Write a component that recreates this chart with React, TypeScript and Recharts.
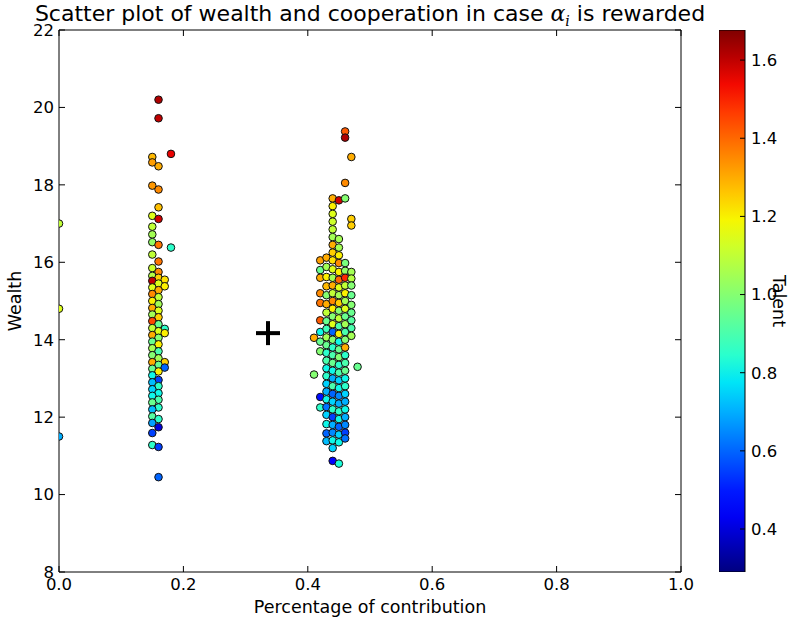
import { ScatterChart, Scatter, XAxis, YAxis, BarChart, Bar } from "recharts";

const FONT = "DejaVu Sans";

const xTicks = [0, 0.2, 0.4, 0.6, 0.8, 1.0];
const yTicks = [8, 10, 12, 14, 16, 18, 20, 22];
const talentTicks = [0.4, 0.6, 0.8, 1.0, 1.2, 1.4, 1.6];
const talentMin = 0.29;
const talentMax = 1.677;

// [contribution, wealth, talent]
type Agent = [number, number, number];

const edgeAgents: Agent[] = [
  [0, 17.0, 1.1],
  [0, 14.8, 1.15],
  [0, 11.5, 0.7],
];

const lowContributors: Agent[] = [
  [0.16, 20.2, 1.62], [0.16, 19.72, 1.6], [0.18, 18.8, 1.55], [0.15, 18.72, 1.28],
  [0.15, 18.58, 1.32], [0.16, 18.48, 1.3], [0.15, 17.98, 1.33], [0.16, 17.88, 1.35],
  [0.16, 17.42, 1.27], [0.15, 17.2, 1.15], [0.16, 17.12, 1.58], [0.15, 16.92, 1.1],
  [0.15, 16.72, 1.05], [0.15, 16.52, 1.02], [0.16, 16.45, 1.38], [0.18, 16.38, 0.85],
  [0.15, 16.2, 1.1], [0.16, 16.02, 1.38], [0.15, 15.85, 1.12], [0.16, 15.75, 1.35],
  [0.15, 15.65, 1.08], [0.16, 15.6, 1.25], [0.15, 15.52, 1.6], [0.17, 15.55, 1.22],
  [0.16, 15.45, 1.15], [0.17, 15.38, 1.2], [0.15, 15.35, 1.15], [0.16, 15.28, 1.3],
  [0.15, 15.18, 1.35], [0.16, 15.1, 1.1], [0.15, 15.0, 1.2], [0.16, 14.92, 1.05],
  [0.15, 14.82, 1.3], [0.16, 14.75, 1.15], [0.15, 14.65, 1.05], [0.16, 14.58, 1.25],
  [0.15, 14.48, 1.45], [0.16, 14.4, 0.95], [0.15, 14.3, 1.1], [0.17, 14.28, 0.85],
  [0.16, 14.22, 1.15], [0.17, 14.17, 1.2], [0.15, 14.12, 1.3], [0.16, 14.05, 1.0],
  [0.15, 13.95, 0.95], [0.16, 13.88, 1.2], [0.15, 13.78, 1.05], [0.16, 13.7, 0.9],
  [0.15, 13.6, 1.0], [0.16, 13.52, 1.05], [0.15, 13.42, 1.3], [0.17, 13.42, 1.25],
  [0.16, 13.35, 0.95], [0.17, 13.28, 0.6], [0.15, 13.25, 0.95], [0.16, 13.18, 1.2],
  [0.15, 13.08, 0.8], [0.16, 12.96, 0.55], [0.15, 12.9, 0.72], [0.16, 12.8, 0.85],
  [0.15, 12.72, 0.75], [0.16, 12.62, 0.8], [0.15, 12.55, 0.8], [0.16, 12.45, 0.9],
  [0.15, 12.38, 0.95], [0.16, 12.25, 0.85], [0.15, 12.2, 0.72], [0.15, 12.02, 0.92],
  [0.16, 11.95, 0.85], [0.15, 11.85, 0.68], [0.16, 11.74, 0.4], [0.15, 11.59, 0.55],
  [0.15, 11.28, 0.85], [0.16, 11.23, 0.55], [0.16, 10.45, 0.6],
];

const highContributors: Agent[] = [
  [0.41, 14.05, 1.3], [0.41, 13.1, 1.0],
  [0.42, 16.05, 1.32], [0.42, 15.8, 0.95], [0.42, 15.6, 1.3], [0.42, 15.2, 1.35],
  [0.42, 14.95, 1.38], [0.42, 14.5, 1.42], [0.42, 14.2, 0.8], [0.42, 13.95, 0.95],
  [0.42, 13.7, 1.0], [0.42, 12.52, 0.48], [0.42, 12.25, 0.85],
  [0.43, 16.12, 1.3], [0.43, 15.88, 1.05], [0.43, 15.62, 1.2], [0.43, 15.38, 1.28],
  [0.43, 15.15, 1.0], [0.43, 14.92, 1.3], [0.43, 14.7, 1.1], [0.43, 14.48, 0.95],
  [0.43, 14.28, 0.88], [0.43, 14.06, 1.05], [0.43, 13.86, 0.95], [0.43, 13.66, 0.85],
  [0.43, 13.46, 0.9], [0.43, 13.26, 0.8], [0.43, 13.06, 0.85], [0.43, 12.86, 0.75],
  [0.43, 12.66, 0.7], [0.43, 12.46, 0.8], [0.43, 12.26, 0.62], [0.43, 12.06, 0.75],
  [0.43, 11.82, 0.8], [0.43, 11.58, 0.6], [0.43, 11.38, 0.72],
  [0.44, 17.65, 1.3], [0.44, 17.45, 1.2], [0.44, 17.25, 1.15], [0.44, 17.05, 1.12],
  [0.44, 16.85, 1.1], [0.44, 16.65, 1.05], [0.44, 16.45, 1.3], [0.44, 16.25, 1.25],
  [0.44, 16.05, 1.22], [0.44, 15.82, 1.15], [0.44, 15.6, 1.05], [0.44, 15.4, 1.3],
  [0.44, 15.2, 1.1], [0.44, 15.0, 1.35], [0.44, 14.8, 1.2], [0.44, 14.6, 1.0],
  [0.44, 14.4, 1.15], [0.44, 14.2, 0.6], [0.44, 14.0, 1.0], [0.44, 13.8, 0.85],
  [0.44, 13.6, 0.9], [0.44, 13.4, 0.95], [0.44, 13.2, 0.8], [0.44, 13.0, 0.7],
  [0.44, 12.8, 0.9], [0.44, 12.6, 0.6], [0.44, 12.4, 0.75], [0.44, 12.2, 0.85],
  [0.44, 12.0, 0.55], [0.44, 11.8, 0.7], [0.44, 11.6, 0.65], [0.44, 11.4, 0.8],
  [0.44, 11.2, 0.75], [0.44, 10.87, 0.45],
  [0.45, 17.6, 1.58], [0.45, 16.6, 1.05], [0.45, 16.38, 1.05], [0.45, 16.18, 1.2],
  [0.45, 15.98, 1.35], [0.45, 15.75, 1.2], [0.45, 15.55, 1.4], [0.45, 15.35, 1.15],
  [0.45, 15.15, 1.05], [0.45, 14.95, 1.25], [0.45, 14.75, 1.0], [0.45, 14.55, 1.1],
  [0.45, 14.35, 0.9], [0.45, 14.15, 1.2], [0.45, 13.95, 0.8], [0.45, 13.75, 0.95],
  [0.45, 13.55, 1.0], [0.45, 13.35, 0.85], [0.45, 13.15, 0.9], [0.45, 12.95, 0.75],
  [0.45, 12.75, 0.8], [0.45, 12.55, 0.65], [0.45, 12.35, 0.7], [0.45, 12.15, 0.85],
  [0.45, 11.95, 0.8], [0.45, 11.75, 0.6], [0.45, 11.55, 0.75], [0.45, 11.35, 0.8],
  [0.45, 10.8, 0.82],
  [0.46, 19.38, 1.42], [0.46, 19.22, 1.62], [0.46, 18.05, 1.35], [0.46, 17.65, 1.0],
  [0.46, 15.98, 0.98], [0.46, 15.78, 1.02], [0.46, 15.6, 1.5], [0.46, 15.4, 1.1],
  [0.46, 15.2, 1.2], [0.46, 15.0, 1.05], [0.46, 14.8, 1.15], [0.46, 14.6, 0.95],
  [0.46, 14.4, 1.05], [0.46, 14.2, 0.9], [0.46, 14.0, 1.0], [0.46, 13.8, 1.3],
  [0.46, 13.6, 0.85], [0.46, 13.4, 0.9], [0.46, 13.2, 0.95], [0.46, 13.0, 0.8],
  [0.46, 12.8, 0.85], [0.46, 12.6, 0.75], [0.46, 12.4, 0.7], [0.46, 12.2, 0.8],
  [0.46, 12.0, 0.7], [0.46, 11.8, 0.65], [0.46, 11.6, 0.55], [0.46, 11.45, 0.62],
  [0.47, 18.72, 1.3], [0.47, 17.12, 1.25], [0.47, 16.95, 1.25], [0.47, 15.75, 1.05],
  [0.47, 15.58, 1.08], [0.47, 15.4, 1.0], [0.47, 15.15, 0.95], [0.47, 14.9, 1.0],
  [0.47, 14.7, 0.95], [0.47, 14.5, 0.92], [0.47, 14.3, 0.9], [0.47, 14.1, 1.05],
  [0.48, 13.3, 0.95],
];

const centroidX = [0.336];
const centroidY = [14.17];

// matplotlib "jet" colormap segments
const jetR = [[0, 0], [0.35, 0], [0.66, 1], [0.89, 1], [1, 0.5]];
const jetG = [[0, 0], [0.125, 0], [0.375, 1], [0.64, 1], [0.91, 0], [1, 0]];
const jetB = [[0, 0.5], [0.11, 1], [0.34, 1], [0.65, 0], [1, 0]];

const channel = (pts: number[][], t: number) => {
  for (let i = 1; i < pts.length; i++) {
    if (t <= pts[i][0]) {
      const [x0, y0] = pts[i - 1];
      const [x1, y1] = pts[i];
      return y0 + ((y1 - y0) * (t - x0)) / (x1 - x0);
    }
  }
  return pts[pts.length - 1][1];
};

const jet = (t: number) => {
  const c = Math.max(0, Math.min(1, t));
  const r = Math.round(channel(jetR, c) * 255);
  const g = Math.round(channel(jetG, c) * 255);
  const b = Math.round(channel(jetB, c) * 255);
  return `rgb(${r},${g},${b})`;
};

const talentColor = (v: number) => jet((v - talentMin) / (talentMax - talentMin));

const toRows = (list: Agent[]) => list.map(([x, y, talent]) => ({ x, y, talent }));
const centroid = centroidX.map((x, i) => ({ x, y: centroidY[i] }));

const Dot = (props: any) => {
  const { cx, cy, payload } = props;
  return <circle cx={cx} cy={cy} r={3.8} fill={talentColor(payload.talent)} stroke="#111" strokeWidth={1} />;
};

const Plus = (props: any) => {
  const { cx, cy } = props;
  return (
    <g stroke="#000" strokeWidth={4}>
      <line x1={cx - 12} y1={cy} x2={cx + 12} y2={cy} />
      <line x1={cx} y1={cy - 12} x2={cx} y2={cy + 12} />
    </g>
  );
};

const BlankTick = () => <g />;

const tickStyle = { fill: "#000", fontSize: 16.5, fontFamily: FONT };
const gradStops = Array.from({ length: 21 }, (_, i) => i / 20);

export default function App() {
  return (
    <div style={{ position: "absolute", left: 0, top: 0, width: 789, height: 620, background: "#fff", fontFamily: FONT }}>
      <div
        style={{
          position: "absolute",
          left: 0,
          top: 1,
          width: 740,
          textAlign: "center",
          fontSize: 22,
          lineHeight: "26px",
          color: "#000",
          whiteSpace: "nowrap",
        }}
      >
        Scatter plot of wealth and cooperation in case{" "}
        <span style={{ fontStyle: "italic", fontFamily: "DejaVu Serif" }}>
          α<sub style={{ fontSize: 14 }}>i</sub>
        </span>{" "}
        is rewarded
      </div>

      <div style={{ position: "absolute", left: 0, top: 0 }}>
        <ScatterChart width={789} height={620} margin={{ top: 29, right: 107, bottom: 0, left: 0 }}>
          <XAxis
            xAxisId="b"
            type="number"
            dataKey="x"
            domain={[0, 1]}
            ticks={xTicks}
            interval={0}
            allowDataOverflow
            tickFormatter={(v: number) => v.toFixed(1)}
            tickSize={-6}
            tickMargin={12}
            height={48}
            stroke="#000"
            tick={tickStyle}
            label={{ value: "Percentage of contribution", position: "insideBottom", offset: 7, fill: "#000", fontSize: 17.5, fontFamily: FONT }}
          />
          <XAxis
            xAxisId="t"
            orientation="top"
            type="number"
            dataKey="x"
            domain={[0, 1]}
            ticks={xTicks}
            interval={0}
            allowDataOverflow
            tickSize={-6}
            height={1}
            stroke="#000"
            tick={BlankTick}
          />
          <YAxis
            yAxisId="l"
            type="number"
            dataKey="y"
            domain={[8, 22]}
            ticks={yTicks}
            interval={0}
            allowDataOverflow
            tickSize={-6}
            tickMargin={11}
            width={59}
            stroke="#000"
            tick={tickStyle}
            label={{ value: "Wealth", angle: -90, position: "insideLeft", offset: 15, fill: "#000", fontSize: 17.5, fontFamily: FONT, style: { textAnchor: "middle" } }}
          />
          <YAxis
            yAxisId="r"
            orientation="right"
            type="number"
            dataKey="y"
            domain={[8, 22]}
            ticks={yTicks}
            interval={0}
            allowDataOverflow
            tickSize={-6}
            width={1}
            stroke="#000"
            tick={BlankTick}
          />
          <Scatter xAxisId="b" yAxisId="l" data={toRows(edgeAgents)} shape={Dot} isAnimationActive={false} />
          <Scatter xAxisId="b" yAxisId="l" data={toRows(lowContributors)} shape={Dot} isAnimationActive={false} />
          <Scatter xAxisId="b" yAxisId="l" data={toRows(highContributors)} shape={Dot} isAnimationActive={false} />
          <Scatter xAxisId="t" yAxisId="r" data={centroid} shape={Plus} isAnimationActive={false} />
        </ScatterChart>
      </div>

      <div style={{ position: "absolute", left: 719, top: 0 }}>
        <BarChart
          width={70}
          height={620}
          data={[{ k: "talent", span: [talentMin, talentMax] }]}
          margin={{ top: 30, right: 0, bottom: 48, left: 0 }}
          barCategoryGap={0}
        >
          <defs>
            <linearGradient id="jetGrad" x1="0" y1="1" x2="0" y2="0">
              {gradStops.map((o) => (
                <stop key={o} offset={o} stopColor={jet(o)} />
              ))}
            </linearGradient>
          </defs>
          <XAxis dataKey="k" type="category" hide />
          <YAxis
            orientation="right"
            type="number"
            domain={[talentMin, talentMax]}
            ticks={talentTicks}
            interval={0}
            allowDataOverflow
            tickFormatter={(v: number) => v.toFixed(1)}
            tickSize={-5}
            tickMargin={11}
            width={44}
            axisLine={false}
            stroke="#000"
            tick={{ ...tickStyle, textAnchor: "start" }}
            label={{ value: "Talent", angle: 90, position: "insideRight", offset: 10, fill: "#000", fontSize: 17.5, fontFamily: FONT, style: { textAnchor: "middle" } }}
          />
          <Bar dataKey="span" fill="url(#jetGrad)" stroke="#000" strokeWidth={1} isAnimationActive={false} />
        </BarChart>
      </div>
    </div>
  );
}
